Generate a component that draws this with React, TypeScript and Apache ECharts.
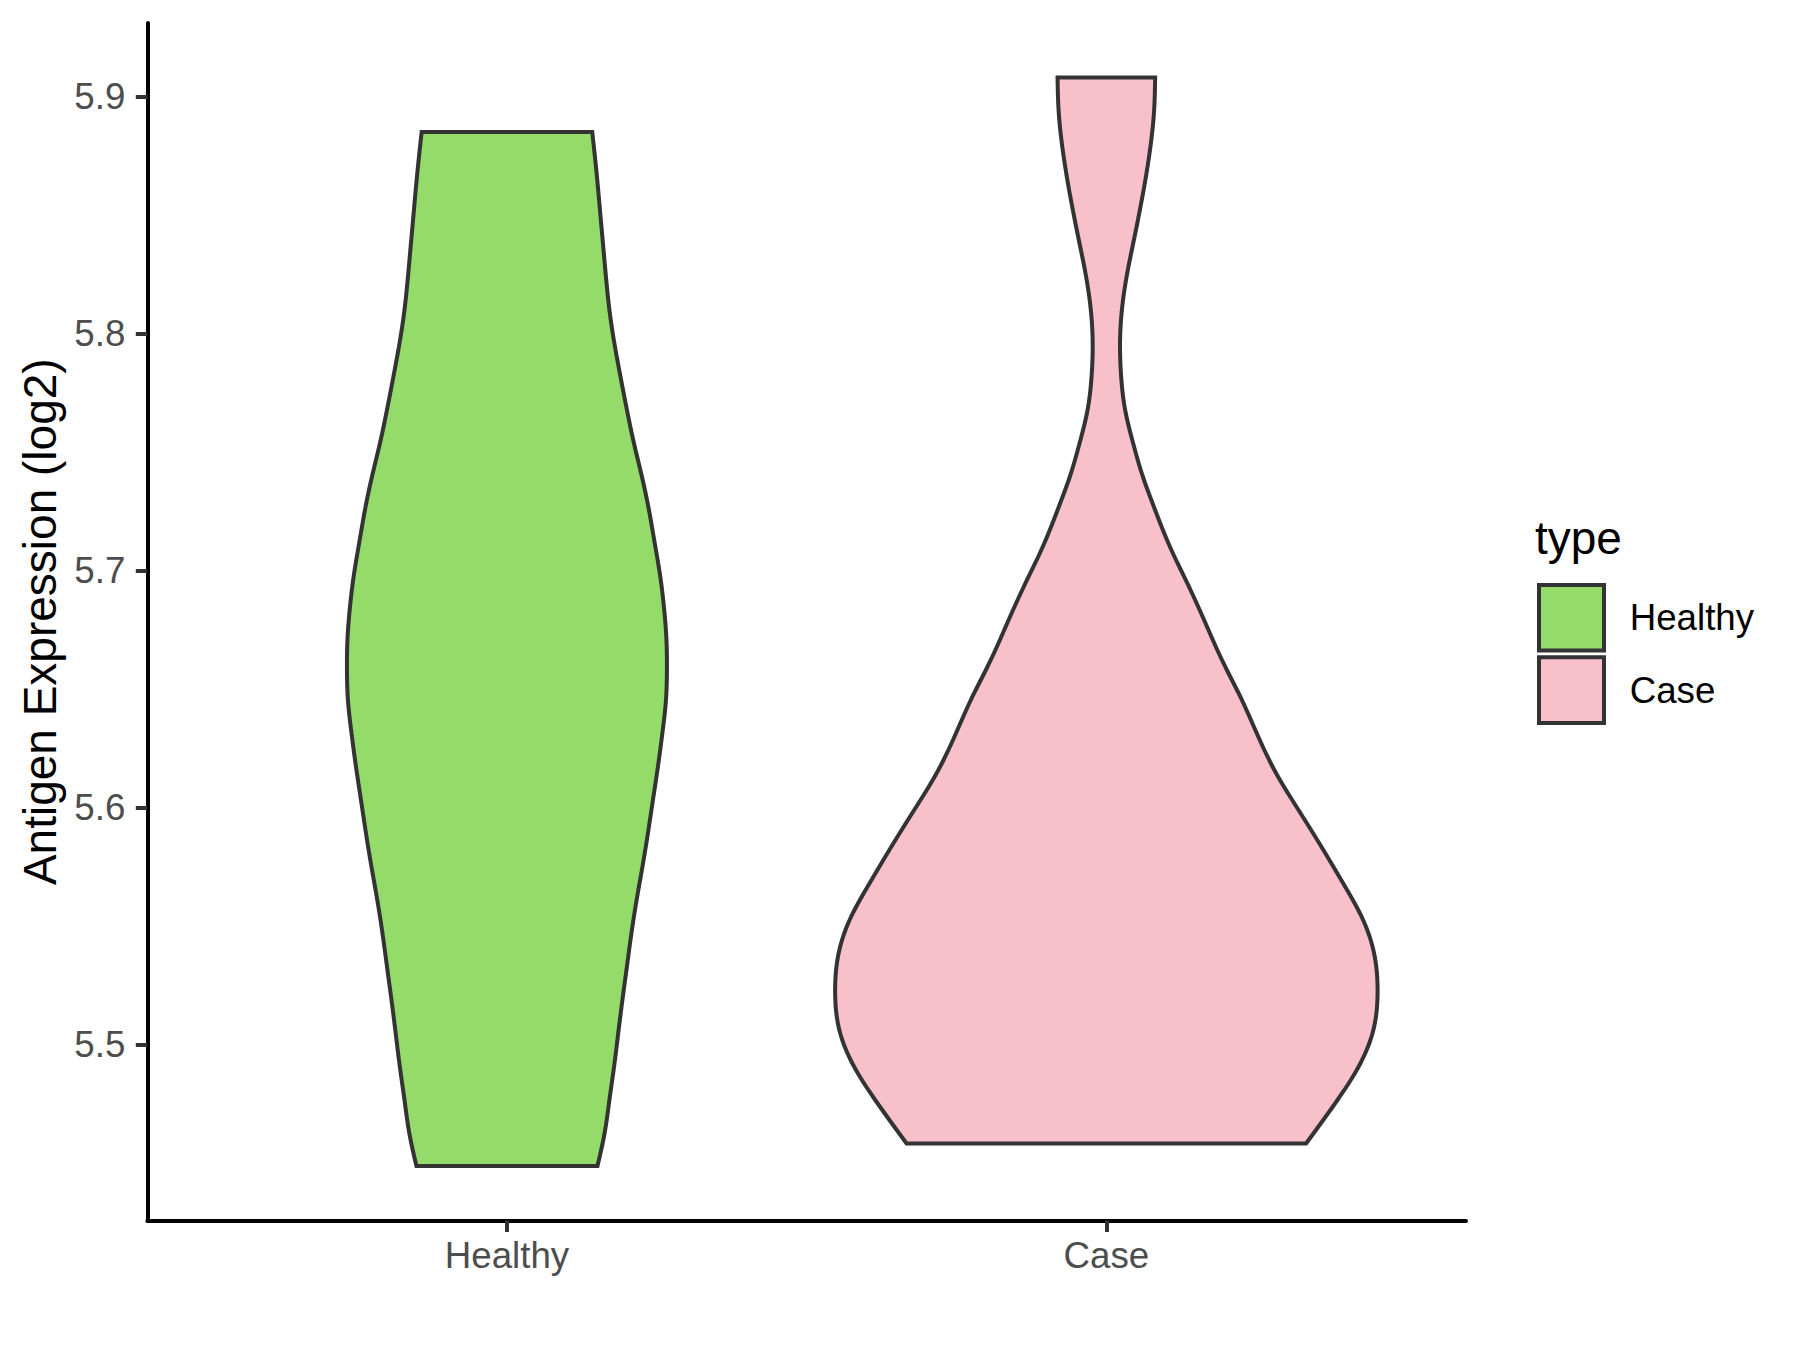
import React, { useEffect, useRef } from 'react';
import * as echarts from 'echarts';

// ---- Data ----
const categories = ['Healthy', 'Case'];
const categoryPositions = [1, 2];
const yTicks = [5.5, 5.6, 5.7, 5.8, 5.9];
const yAxisTitle = 'Antigen Expression (log2)';
const legendTitle = 'type';
const fillColors = ['#94DB6A', '#F7C0CB'];

// violin outline: expression value (log2) and half-width (x-axis units)
const healthyY = [5.8851, 5.8661, 5.8521, 5.838, 5.8239, 5.8099, 5.7958, 5.7818, 5.7677, 5.7537, 5.7396, 5.7255, 5.7115, 5.6974, 5.6833, 5.6707, 5.658, 5.6454, 5.6315, 5.6172, 5.6032, 5.5891, 5.575, 5.561, 5.5469, 5.5329, 5.5188, 5.5048, 5.4907, 5.4766, 5.4626, 5.4486];
const healthyHalfWidth = [0.1423, 0.1502, 0.1552, 0.1602, 0.1652, 0.171, 0.1793, 0.1894, 0.2002, 0.2119, 0.2252, 0.2369, 0.2466, 0.2558, 0.2624, 0.2661, 0.2669, 0.2653, 0.2594, 0.2519, 0.2436, 0.2352, 0.2261, 0.2164, 0.2077, 0.2002, 0.1927, 0.1857, 0.1788, 0.171, 0.163, 0.151];
const caseY = [5.9081, 5.8943, 5.8802, 5.8661, 5.8521, 5.838, 5.8239, 5.8099, 5.7986, 5.7818, 5.7677, 5.7537, 5.7396, 5.7297, 5.7082, 5.6926, 5.677, 5.6614, 5.6458, 5.6302, 5.6146, 5.599, 5.5834, 5.5678, 5.5522, 5.5365, 5.5226, 5.5049, 5.4893, 5.4737, 5.4581];
const caseHalfWidth = [0.0814, 0.0797, 0.0742, 0.0659, 0.0559, 0.0447, 0.0337, 0.0259, 0.023, 0.0247, 0.0314, 0.0447, 0.0609, 0.0751, 0.1093, 0.1388, 0.1667, 0.1944, 0.2252, 0.2528, 0.2828, 0.3203, 0.3587, 0.3954, 0.4288, 0.4481, 0.4525, 0.4443, 0.4181, 0.3779, 0.3332];

const profiles = [
  { y: healthyY, w: healthyHalfWidth },
  { y: caseY, w: caseHalfWidth },
];

// natural cubic spline through the read outline points (for smooth drawing)
function naturalSpline(xs: number[], ys: number[]) {
  const n = xs.length;
  const h: number[] = [];
  for (let i = 0; i < n - 1; i++) h.push(xs[i + 1] - xs[i]);
  const a: number[] = new Array(n).fill(0);
  const b: number[] = new Array(n).fill(1);
  const c: number[] = new Array(n).fill(0);
  const d: number[] = new Array(n).fill(0);
  for (let i = 1; i < n - 1; i++) {
    a[i] = h[i - 1];
    b[i] = 2 * (h[i - 1] + h[i]);
    c[i] = h[i];
    d[i] = 6 * ((ys[i + 1] - ys[i]) / h[i] - (ys[i] - ys[i - 1]) / h[i - 1]);
  }
  // Thomas algorithm
  const cp: number[] = new Array(n).fill(0);
  const dp: number[] = new Array(n).fill(0);
  cp[0] = c[0] / b[0];
  dp[0] = d[0] / b[0];
  for (let i = 1; i < n; i++) {
    const m = b[i] - a[i] * cp[i - 1];
    cp[i] = c[i] / m;
    dp[i] = (d[i] - a[i] * dp[i - 1]) / m;
  }
  const M: number[] = new Array(n).fill(0);
  M[n - 1] = dp[n - 1];
  for (let i = n - 2; i >= 0; i--) M[i] = dp[i] - cp[i] * M[i + 1];
  return (x: number) => {
    let i = 0;
    while (i < n - 2 && x > xs[i + 1]) i++;
    const t1 = xs[i + 1] - x;
    const t0 = x - xs[i];
    const hi = h[i];
    return (
      (M[i] * t1 * t1 * t1) / (6 * hi) +
      (M[i + 1] * t0 * t0 * t0) / (6 * hi) +
      (ys[i] / hi - (M[i] * hi) / 6) * t1 +
      (ys[i + 1] / hi - (M[i + 1] * hi) / 6) * t0
    );
  };
}

const FONT = "'Liberation Sans', Arial, Helvetica, sans-serif";

export default function App() {
  const ref = useRef<HTMLDivElement>(null);

  useEffect(() => {
    const chart = echarts.init(ref.current as HTMLDivElement, null, { renderer: 'svg' });

    const series = categories.map((name, i) => ({
      name,
      type: 'custom',
      itemStyle: { color: fillColors[i], borderColor: '#333333', borderWidth: 4 },
      encode: { x: 0, y: 1 },
      data: [[categoryPositions[i], profiles[i].y[0]]],
      renderItem: (params: any, api: any) => {
        const xc = api.value(0) as number;
        const prof = profiles[i];
        const cx = api.coord([xc, prof.y[0]])[0];
        // pixel positions of the read points (top to bottom => increasing pixel y)
        const py = prof.y.map((yv) => api.coord([xc, yv])[1]);
        const pw = prof.w.map((w) => api.coord([xc + w, prof.y[0]])[0] - cx);
        const f = naturalSpline(py, pw);
        const ysamp: number[] = [];
        for (let y = py[0]; y < py[py.length - 1]; y += 2) ysamp.push(y);
        ysamp.push(py[py.length - 1]);
        const right = ysamp.map((y) => [cx + f(y), y]);
        const left = ysamp.map((y) => [cx - f(y), y]).reverse();
        return {
          type: 'polygon',
          shape: { points: right.concat(left) },
          style: { fill: fillColors[i], stroke: '#333333', lineWidth: 4, lineJoin: 'miter' },
        };
      },
    }));

    const option: any = {
      animation: false,
      backgroundColor: '#ffffff',
      grid: { left: 147.3, right: 334, top: 23, bottom: 129.5, outerBoundsMode: 'none', containLabel: false },
      xAxis: {
        type: 'value',
        min: 0.4,
        max: 2.6,
        splitLine: { show: false },
        axisLine: { show: true, onZero: false, lineStyle: { color: '#000000', width: 4 } },
        axisTick: { show: true, length: 11.5, customValues: categoryPositions, lineStyle: { color: '#333333', width: 4 } },
        axisLabel: {
          show: true,
          customValues: categoryPositions,
          margin: 16,
          fontSize: 36.7,
          color: '#4D4D4D',
          fontFamily: FONT,
          formatter: (v: number) => categories[Math.round(v) - 1] ?? '',
        },
      },
      yAxis: {
        type: 'value',
        min: 5.4256,
        max: 5.9311,
        name: yAxisTitle,
        nameLocation: 'middle',
        nameRotate: 90,
        nameGap: 84,
        nameMoveOverlap: false,
        nameTextStyle: { fontSize: 46, color: '#000000', fontFamily: FONT },
        splitLine: { show: false },
        axisLine: { show: true, onZero: false, lineStyle: { color: '#000000', width: 4 } },
        axisTick: { show: true, length: 11.5, customValues: yTicks, lineStyle: { color: '#333333', width: 4 } },
        axisLabel: {
          show: true,
          customValues: yTicks,
          margin: 22,
          fontSize: 36.7,
          color: '#4D4D4D',
          fontFamily: FONT,
          formatter: (v: number) => v.toFixed(1),
        },
      },
      legend: {
        show: true,
        orient: 'vertical',
        left: 1532,
        top: 578,
        itemWidth: 65,
        itemHeight: 65.6,
        itemGap: 2.7,
        icon: 'rect',
        data: categories,
        selectedMode: false,
        itemStyle: { borderColor: '#333333', borderWidth: 4 },
        textStyle: { fontSize: 36.7, color: '#000000', fontFamily: FONT, padding: [0, 0, 0, 20.7] },
      },
      graphic: [
        {
          type: 'text',
          x: 1535,
          y: 538.4,
          style: { text: legendTitle, fontSize: 46, fill: '#000000', fontFamily: FONT, verticalAlign: 'middle', align: 'left' },
        },
      ],
      series,
    };

    chart.setOption(option);
    return () => chart.dispose();
  }, []);

  return (
    <div
      ref={ref}
      style={{ position: 'absolute', left: 0, top: 0, width: 1800, height: 1350, background: '#fff' }}
    />
  );
}
